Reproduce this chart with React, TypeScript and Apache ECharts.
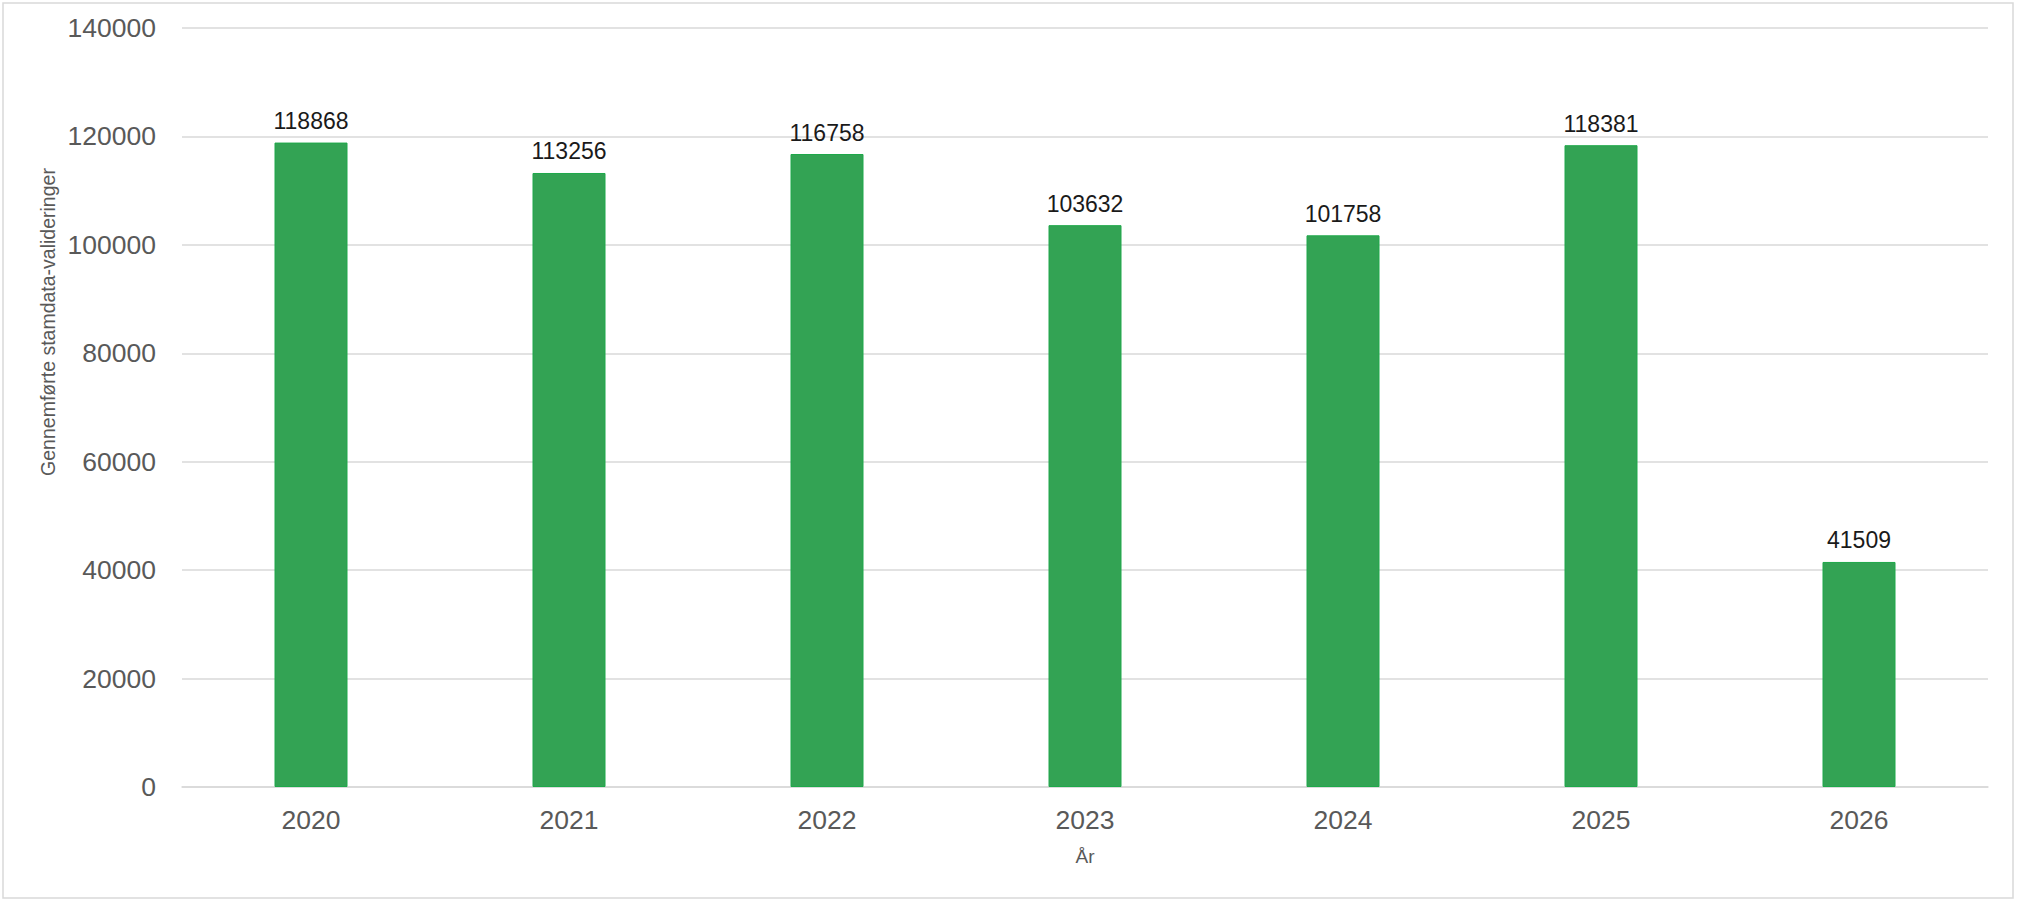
import React, { useEffect, useRef } from 'react';
import * as echarts from 'echarts';

const years = ['2020', '2021', '2022', '2023', '2024', '2025', '2026'];
const validations = [118868, 113256, 116758, 103632, 101758, 118381, 41509];

const yTitle = 'Gennemførte stamdata-valideringer';
const xTitle = 'År';

const FONT = '"Liberation Sans", Arial, sans-serif';

const App: React.FC = () => {
  const chartRef = useRef<HTMLDivElement>(null);

  useEffect(() => {
    const chart = echarts.init(chartRef.current!, undefined, { renderer: 'svg' });

    const option = {
      animation: false,
      backgroundColor: '#ffffff',
      grid: { left: 182, right: 29, top: 28, bottom: 116 },
      xAxis: {
        type: 'category',
        data: years,
        name: xTitle,
        nameLocation: 'middle',
        nameGap: 60,
        nameTextStyle: { color: '#595959', fontSize: 19, fontFamily: FONT },
        axisLine: { lineStyle: { color: '#d9d9d9', width: 1.5 } },
        axisTick: { show: false },
        axisLabel: { color: '#595959', fontSize: 26.5, fontFamily: FONT, margin: 19 },
      },
      yAxis: {
        type: 'value',
        min: 0,
        max: 140000,
        interval: 20000,
        axisLine: { show: false },
        axisTick: { show: false },
        axisLabel: {
          color: '#595959',
          fontSize: 26.5,
          fontFamily: FONT,
          margin: 26,
          formatter: (v: number) => String(v),
        },
        splitLine: { lineStyle: { color: '#d9d9d9', width: 1.5 } },
      },
      graphic: [
        {
          type: 'rect',
          shape: { x: 3, y: 3, width: 2010, height: 895 },
          style: { fill: 'none', stroke: '#d9d9d9', lineWidth: 1.5 },
          silent: true,
        },
        {
          type: 'text',
          x: 48,
          y: 322,
          rotation: Math.PI / 2,
          style: {
            text: yTitle,
            fill: '#595959',
            fontSize: 19.5,
            fontFamily: FONT,
            align: 'center',
            verticalAlign: 'middle',
          },
        },
      ],
      series: [
        {
          type: 'bar',
          data: validations,
          barWidth: 73,
          itemStyle: { color: '#33a354', borderColor: '#1ea84a', borderWidth: 1 },
          label: {
            show: true,
            position: 'top',
            distance: 10,
            color: '#1a1a1a',
            fontSize: 23,
            fontFamily: FONT,
          },
        },
      ],
    };

    chart.setOption(option);

    return () => {
      chart.dispose();
    };
  }, []);

  return (
    <div
      ref={chartRef}
      style={{ position: 'fixed', left: 0, top: 0, width: 2017, height: 903 }}
    />
  );
};

export default App;
